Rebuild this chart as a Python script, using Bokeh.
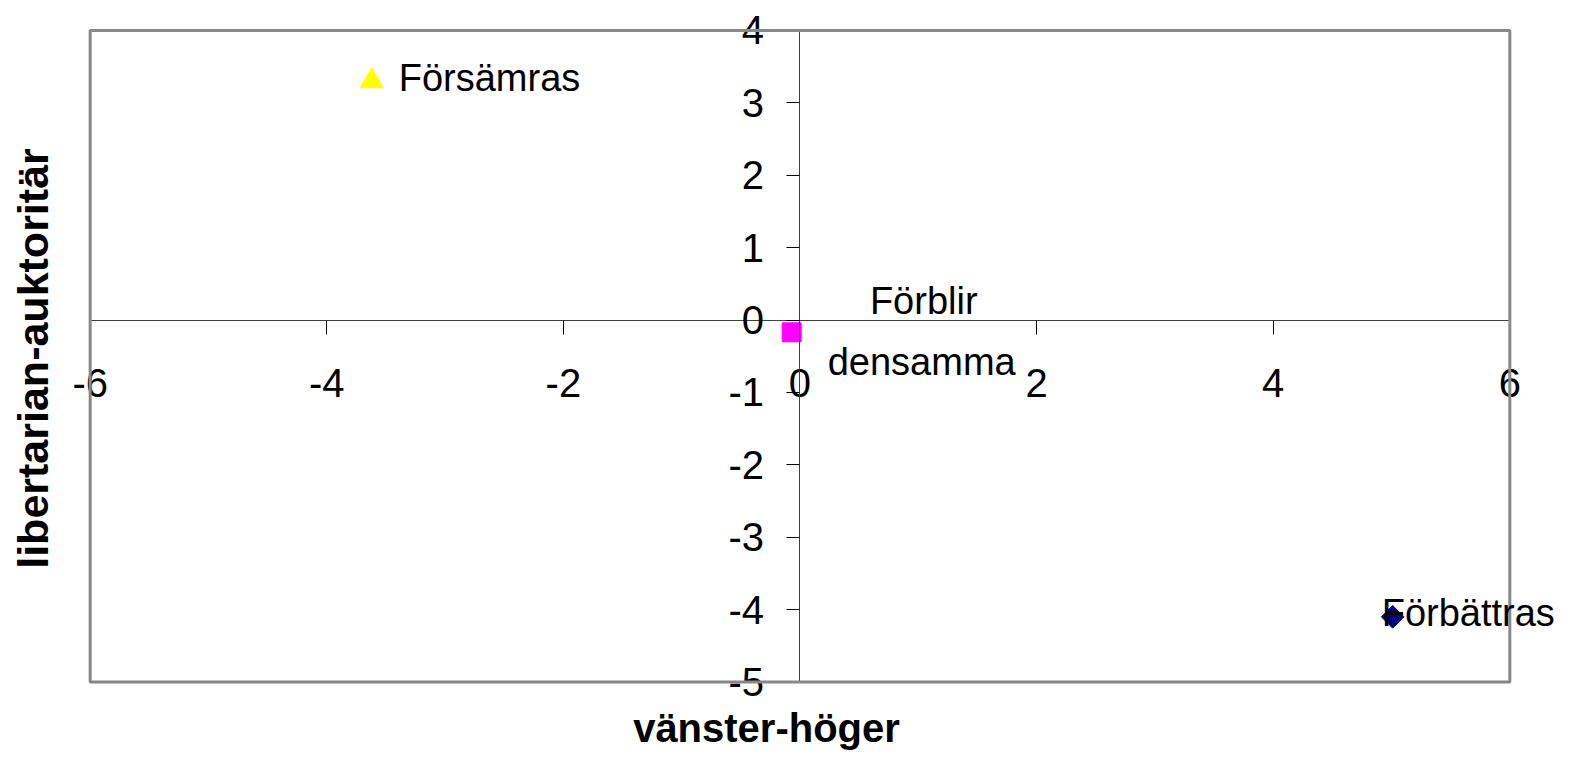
from bokeh.plotting import figure
from bokeh.models import Range1d, Label, FixedTicker, BoxAnnotation
from bokeh.embed import file_html
from bokeh.resources import INLINE
import math

# ---- data ----
series_names = ["Förbättras", "Förblir", "densamma", "Försämras"]
x_vals = [5.01, -0.07, -3.62]
y_vals = [-4.10, -0.17, 3.30]
marker_colors = ["#000080", "#FF00FF", "#FFFF00"]
x_ticks = [-6, -4, -2, 0, 2, 4, 6]
y_ticks = [-5, -4, -3, -2, -1, 0, 1, 2, 3, 4]
x_title = "vänster-höger"
y_title = "libertarian-auktoritär"

FONT = "Liberation Sans"
W, H = 1559, 750

# frame covers the whole canvas; ranges chosen so the -6..6 / -5..4 box sits
# where the reference plot area is
p = figure(width=W, height=H, output_backend="svg", toolbar_location=None,
           x_range=Range1d(-6.758, 6.420), y_range=Range1d(-5.946, 4.413),
           min_border_left=0, min_border_right=0, min_border_top=0,
           min_border_bottom=0)

p.background_fill_color = "white"
p.border_fill_color = "white"
p.outline_line_color = None
p.xgrid.visible = False
p.ygrid.visible = False

# plot-area border
p.add_layout(BoxAnnotation(left=x_ticks[0], right=x_ticks[-1],
                           bottom=y_ticks[0], top=y_ticks[-1],
                           fill_color=None, fill_alpha=0,
                           line_color="#888888", line_alpha=1.0, line_width=3))

# axes crossing at 0
p.xaxis.fixed_location = 0
p.yaxis.fixed_location = 0
for ax, ticks in ((p.xaxis, x_ticks), (p.yaxis, y_ticks)):
    ax.ticker = FixedTicker(ticks=ticks)
    ax.bounds = (ticks[0], ticks[-1])
    ax.major_label_overrides = {t: str(t) for t in ticks}
    ax.axis_line_color = "#404040"
    ax.axis_line_width = 1
    ax.major_tick_line_color = "black"
    ax.major_tick_in = 0
    ax.minor_tick_line_color = None
    ax.major_label_text_font = FONT
    ax.major_label_text_font_size = "40px"
    ax.major_label_text_color = "black"
p.xaxis.major_tick_out = 14
p.yaxis.major_tick_out = 13
p.xaxis.major_label_standoff = 35
p.yaxis.major_label_standoff = 23

# markers
p.scatter([x_vals[0]], [y_vals[0]], marker="square", size=16, angle=math.pi / 4,
          fill_color=marker_colors[0], line_color=marker_colors[0])
p.scatter([x_vals[1]], [y_vals[1]], marker="square", size=19,
          fill_color=marker_colors[1], line_color=marker_colors[1])
p.scatter([x_vals[2]], [y_vals[2]], marker="triangle", size=23,
          fill_color=marker_colors[2], line_color=marker_colors[2])

# point labels
lab_kw = dict(text_font=FONT, text_font_size="38px", text_color="black",
              text_baseline="alphabetic")
p.add_layout(Label(x=x_vals[0], y=y_vals[0], text=series_names[0], x_offset=-11,
                   y_offset=4, text_align="left", **lab_kw))
p.add_layout(Label(x=x_vals[1], y=y_vals[1], text=series_names[1], x_offset=132,
                   y_offset=31, text_align="center", **lab_kw))
p.add_layout(Label(x=x_vals[1], y=y_vals[1], text=series_names[2], x_offset=130,
                   y_offset=-30, text_align="center", **lab_kw))
p.add_layout(Label(x=x_vals[2], y=y_vals[2], text=series_names[3], x_offset=27,
                   y_offset=3, text_align="left", **lab_kw))

# axis titles (screen units relative to the frame = canvas)
p.add_layout(Label(x=766, y=23, x_units="screen", y_units="screen", text=x_title,
                   text_align="center", text_baseline="alphabetic",
                   text_font=FONT, text_font_size="40px", text_font_style="bold",
                   text_color="black"))
p.add_layout(Label(x=32, y=392, x_units="screen", y_units="screen", text=y_title,
                   angle=math.pi / 2, text_align="center", text_baseline="alphabetic",
                   text_font=FONT, text_font_size="43px", text_font_style="bold",
                   text_color="black"))

open("out.html", "w").write(file_html(p, INLINE))
